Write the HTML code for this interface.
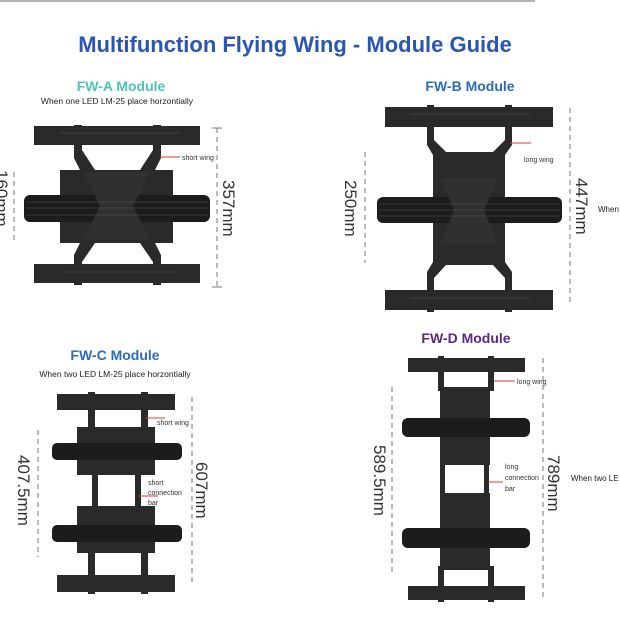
<!DOCTYPE html>
<html><head><meta charset="utf-8"><style>
body{margin:0;background:#fff}
svg{display:block}
text{font-family:"Liberation Sans",sans-serif}
</style></head><body>
<svg width="620" height="620" viewBox="0 0 620 620" xmlns="http://www.w3.org/2000/svg">
<rect width="620" height="620" fill="#fff"/>
<line x1="0" y1="1" x2="535" y2="1" stroke="#999" stroke-width="1.5"/>
<text x="295" y="52" text-anchor="middle" font-size="22" font-weight="bold" fill="#2b55b0">Multifunction Flying Wing - Module Guide</text>

<!-- FW-A -->
<text x="121" y="91" text-anchor="middle" font-size="14" font-weight="bold" fill="#4cc4b4">FW-A Module</text>
<text x="117" y="104" text-anchor="middle" font-size="8.5" fill="#222">When one LED LM-25 place horzontially</text>
<g fill="#2a2a2a">
<rect x="34" y="126" width="166" height="19"/>
<rect x="34" y="264" width="166" height="19"/>
<rect x="60" y="170" width="113" height="73"/>
<polygon points="74,125 82,125 82,150 95,170 80,170 74,158"/>
<polygon points="153,125 161,125 161,158 155,170 140,170 153,150"/>
<polygon points="74,285 82,285 82,262 95,243 80,243 74,255"/>
<polygon points="153,285 161,285 161,255 155,243 140,243 153,262"/>
<rect x="24" y="195" width="186" height="27" rx="6" fill="#1c1c1c"/>
<polygon points="83,172 150,172 133,206 150,240 83,240 100,206" fill="#303030"/>
</g>
<g stroke="#555" stroke-width="0.6"><line x1="26" y1="202" x2="208" y2="202"/><line x1="26" y1="208" x2="208" y2="208"/><line x1="26" y1="215" x2="208" y2="215"/><line x1="60" y1="133" x2="180" y2="133"/><line x1="60" y1="272" x2="180" y2="272"/></g>
<line x1="217" y1="128" x2="217" y2="287" stroke="#777" stroke-dasharray="5,4"/>
<line x1="212" y1="128" x2="222" y2="128" stroke="#777"/><line x1="212" y1="287" x2="222" y2="287" stroke="#777"/>
<text transform="translate(223,180) rotate(90)" font-size="17" fill="#333">357mm</text>
<line x1="14" y1="172" x2="14" y2="243" stroke="#777" stroke-dasharray="5,4"/>
<text transform="translate(-4,170) rotate(90)" font-size="17" fill="#333">160mm</text>
<line x1="160" y1="157" x2="180" y2="157" stroke="#e33"/>
<text x="182" y="160" font-size="7" fill="#333">short wing</text>

<!-- FW-B -->
<text x="470" y="91" text-anchor="middle" font-size="14" font-weight="bold" fill="#2b6bb8">FW-B Module</text>
<g fill="#2a2a2a">
<rect x="385" y="107" width="168" height="20"/>
<rect x="385" y="290" width="168" height="20"/>
<polygon points="427,105 434,105 434,140 446,152 493,152 505,140 505,105 512,105 512,145 505,155 505,262 512,272 512,312 505,312 505,278 493,265 446,265 434,278 434,312 427,312 427,272 433,262 433,155 427,145"/>
<rect x="377" y="197" width="185" height="26" rx="6" fill="#1c1c1c"/>
<polygon points="440,178 498,178 484,210 498,245 440,245 454,210" fill="#303030"/>
</g>
<g stroke="#555" stroke-width="0.6"><line x1="379" y1="204" x2="560" y2="204"/><line x1="379" y1="210" x2="560" y2="210"/><line x1="379" y1="216" x2="560" y2="216"/><line x1="410" y1="114" x2="530" y2="114"/><line x1="410" y1="298" x2="530" y2="298"/></g>
<line x1="570" y1="108" x2="570" y2="305" stroke="#777" stroke-dasharray="5,4"/>
<text transform="translate(576,178) rotate(90)" font-size="17" fill="#333">447mm</text>
<line x1="365" y1="152" x2="365" y2="263" stroke="#777" stroke-dasharray="5,4"/>
<text transform="translate(345,180) rotate(90)" font-size="17" fill="#333">250mm</text>
<line x1="510" y1="143" x2="531" y2="143" stroke="#e33"/>
<text x="524" y="162" font-size="7" fill="#333">long wing</text>
<text x="598" y="212" font-size="8" fill="#222">When</text>

<!-- FW-C -->
<text x="115" y="360" text-anchor="middle" font-size="14" font-weight="bold" fill="#2b6bb8">FW-C Module</text>
<text x="115" y="377" text-anchor="middle" font-size="8.5" fill="#222">When two LED LM-25 place horzontially</text>
<g fill="#2a2a2a">
<rect x="57" y="394" width="118" height="16"/>
<rect x="57" y="575" width="118" height="17"/>
<rect x="77" y="427" width="78" height="48"/>
<rect x="77" y="506" width="78" height="47"/>
<rect x="88" y="392" width="7" height="40"/><rect x="141" y="392" width="7" height="40"/>
<rect x="92" y="470" width="6" height="40"/><rect x="135" y="470" width="6" height="40"/>
<rect x="88" y="548" width="7" height="46"/><rect x="141" y="548" width="7" height="46"/>
<rect x="52" y="443" width="130" height="17" rx="5" fill="#1c1c1c"/>
<rect x="52" y="525" width="130" height="17" rx="5" fill="#1c1c1c"/>
</g>
<line x1="192" y1="397" x2="192" y2="585" stroke="#777" stroke-dasharray="5,4"/>
<text transform="translate(196,462) rotate(90)" font-size="17" fill="#333">607mm</text>
<line x1="38" y1="430" x2="38" y2="557" stroke="#777" stroke-dasharray="5,4"/>
<text transform="translate(18,455) rotate(90)" font-size="17" fill="#333">407.5mm</text>
<line x1="146" y1="418" x2="165" y2="418" stroke="#e33"/>
<text x="157" y="425" font-size="7" fill="#333">short wing</text>
<line x1="139" y1="496" x2="158" y2="496" stroke="#e33"/>
<text x="148" y="485" font-size="7" fill="#333">short</text>
<text x="148" y="495" font-size="7" fill="#333">connection</text>
<text x="148" y="505" font-size="7" fill="#333">bar</text>

<!-- FW-D -->
<text x="466" y="343" text-anchor="middle" font-size="14" font-weight="bold" fill="#5a2a80">FW-D Module</text>
<g fill="#2a2a2a">
<rect x="408" y="358" width="117" height="14"/>
<rect x="408" y="586" width="117" height="14"/>
<rect x="440" y="387" width="50" height="78"/>
<rect x="440" y="493" width="50" height="77"/>
<rect x="438" y="356" width="6" height="35"/><rect x="488" y="356" width="6" height="35"/>
<rect x="440" y="463" width="5" height="32"/><rect x="484" y="463" width="5" height="32"/>
<rect x="438" y="566" width="6" height="36"/><rect x="488" y="566" width="6" height="36"/>
<rect x="402" y="418" width="128" height="19" rx="6" fill="#1c1c1c"/>
<rect x="402" y="528" width="128" height="20" rx="6" fill="#1c1c1c"/>
</g>
<line x1="543" y1="358" x2="543" y2="600" stroke="#777" stroke-dasharray="5,4"/>
<text transform="translate(548,455) rotate(90)" font-size="17" fill="#333">789mm</text>
<line x1="392" y1="387" x2="392" y2="572" stroke="#777" stroke-dasharray="5,4"/>
<text transform="translate(374,445) rotate(90)" font-size="17" fill="#333">589.5mm</text>
<line x1="494" y1="381" x2="515" y2="381" stroke="#e33"/>
<text x="517" y="384" font-size="7" fill="#333">long wing</text>
<line x1="488" y1="482" x2="503" y2="482" stroke="#e33"/>
<text x="505" y="469" font-size="7" fill="#333">long</text>
<text x="505" y="480" font-size="7" fill="#333">connection</text>
<text x="505" y="491" font-size="7" fill="#333">bar</text>
<text x="571" y="481" font-size="8" fill="#222">When two LE</text>
</svg>
</body></html>
